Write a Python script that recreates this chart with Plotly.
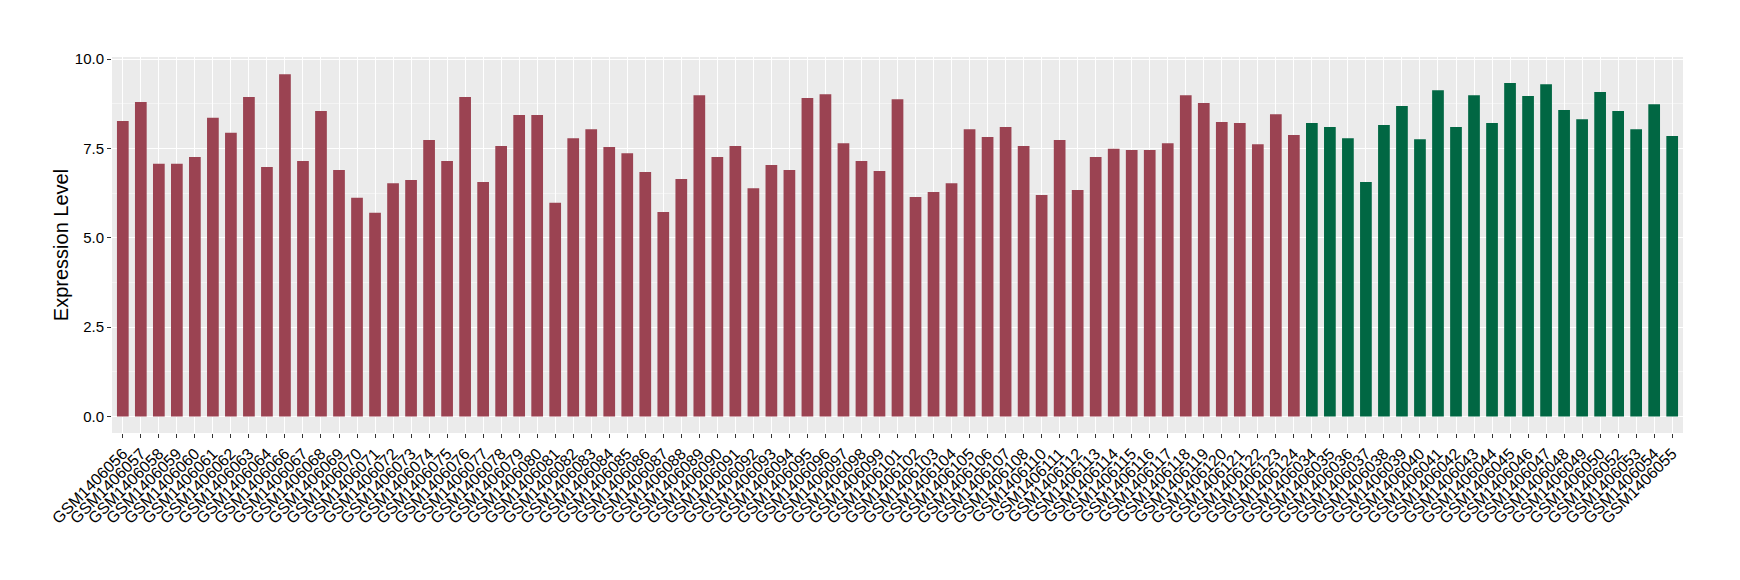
import plotly.graph_objects as go

group1_samples = [
    "GSM1406056", "GSM1406057", "GSM1406058", "GSM1406059", "GSM1406060", "GSM1406061",
    "GSM1406062", "GSM1406063", "GSM1406064", "GSM1406066", "GSM1406067", "GSM1406068",
    "GSM1406069", "GSM1406070", "GSM1406071", "GSM1406072", "GSM1406073", "GSM1406074",
    "GSM1406075", "GSM1406076", "GSM1406077", "GSM1406078", "GSM1406079", "GSM1406080",
    "GSM1406081", "GSM1406082", "GSM1406083", "GSM1406084", "GSM1406085", "GSM1406086",
    "GSM1406087", "GSM1406088", "GSM1406089", "GSM1406090", "GSM1406091", "GSM1406092",
    "GSM1406093", "GSM1406094", "GSM1406095", "GSM1406096", "GSM1406097", "GSM1406098",
    "GSM1406099", "GSM1406101", "GSM1406102", "GSM1406103", "GSM1406104", "GSM1406105",
    "GSM1406106", "GSM1406107", "GSM1406108", "GSM1406110", "GSM1406111", "GSM1406112",
    "GSM1406113", "GSM1406114", "GSM1406115", "GSM1406116", "GSM1406117", "GSM1406118",
    "GSM1406119", "GSM1406120", "GSM1406121", "GSM1406122", "GSM1406123", "GSM1406124",
]
group1_values = [
    8.27, 8.80, 7.07, 7.07, 7.26, 8.36, 7.94, 8.94, 6.98, 9.58, 7.15, 8.55,
    6.90, 6.12, 5.70, 6.53, 6.62, 7.74, 7.15, 8.94, 6.56, 7.57, 8.44, 8.44,
    5.98, 7.79, 8.04, 7.54, 7.37, 6.84, 5.72, 6.65, 8.99, 7.26, 7.57, 6.39,
    7.04, 6.90, 8.91, 9.02, 7.65, 7.15, 6.87, 8.88, 6.14, 6.28, 6.53, 8.04,
    7.82, 8.10, 7.57, 6.20, 7.74, 6.34, 7.26, 7.49, 7.46, 7.46, 7.65, 8.99,
    8.77, 8.24, 8.21, 7.62, 8.46, 7.88,
]

group2_samples = [
    "GSM1406034", "GSM1406035", "GSM1406036", "GSM1406037", "GSM1406038", "GSM1406039",
    "GSM1406040", "GSM1406041", "GSM1406042", "GSM1406043", "GSM1406044", "GSM1406045",
    "GSM1406046", "GSM1406047", "GSM1406048", "GSM1406049", "GSM1406050", "GSM1406052",
    "GSM1406053", "GSM1406054", "GSM1406055",
]
group2_values = [
    8.21, 8.10, 7.79, 6.56, 8.16, 8.69, 7.76, 9.13, 8.10, 8.99, 8.21, 9.33,
    8.97, 9.30, 8.58, 8.32, 9.08, 8.55, 8.04, 8.74, 7.85,
]

y_tick_vals = [0.0, 2.5, 5.0, 7.5, 10.0]
y_tick_text = ["0.0", "2.5", "5.0", "7.5", "10.0"]

all_samples = group1_samples + group2_samples

RED = "#9b4352"
GREEN = "#016743"
FONT = "Liberation Sans, Arial, Helvetica, sans-serif"

fig = go.Figure()
fig.add_trace(go.Bar(x=group1_samples, y=group1_values, marker_color=RED,
                     marker_line_width=0, width=0.65, showlegend=False))
fig.add_trace(go.Bar(x=group2_samples, y=group2_values, marker_color=GREEN,
                     marker_line_width=0, width=0.65, showlegend=False))

fig.update_layout(
    width=1740, height=580,
    margin=dict(l=112, r=57, t=57, b=147, pad=0),
    paper_bgcolor="white",
    plot_bgcolor="#EBEBEB",
    barmode="overlay",
    font=dict(family=FONT, color="black", size=15),
)
fig.update_xaxes(
    type="category",
    categoryorder="array",
    categoryarray=all_samples,
    range=[-0.6, len(all_samples) - 0.4],
    tickmode="array",
    tickvals=all_samples,
    ticktext=all_samples,
    tickangle=-45,
    tickfont=dict(size=16, color="black", family=FONT),
    ticks="outside", ticklen=4, tickwidth=1, tickcolor="#333333",
    showgrid=True, gridcolor="white", gridwidth=1.1,
    showline=False, zeroline=False,
)
fig.update_yaxes(
    range=[-0.46, 10.06],
    tickvals=y_tick_vals,
    ticktext=y_tick_text,
    tickfont=dict(size=15, color="black", family=FONT),
    ticks="outside", ticklen=4, tickwidth=1, tickcolor="#333333",
    showgrid=True, gridcolor="white", gridwidth=1.1,
    minor=dict(tickvals=[1.25, 3.75, 6.25, 8.75], showgrid=True,
               gridcolor="#F4F4F4", gridwidth=0.6, ticks=""),
    zeroline=False, showline=False,
    title=dict(text="Expression Level", font=dict(size=20, color="black", family=FONT),
               standoff=0),
)

fig.write_html(
    "out.html",
    config={"displayModeBar": False},
    post_script="document.body.style.margin='0';document.body.style.padding='0';",
)
